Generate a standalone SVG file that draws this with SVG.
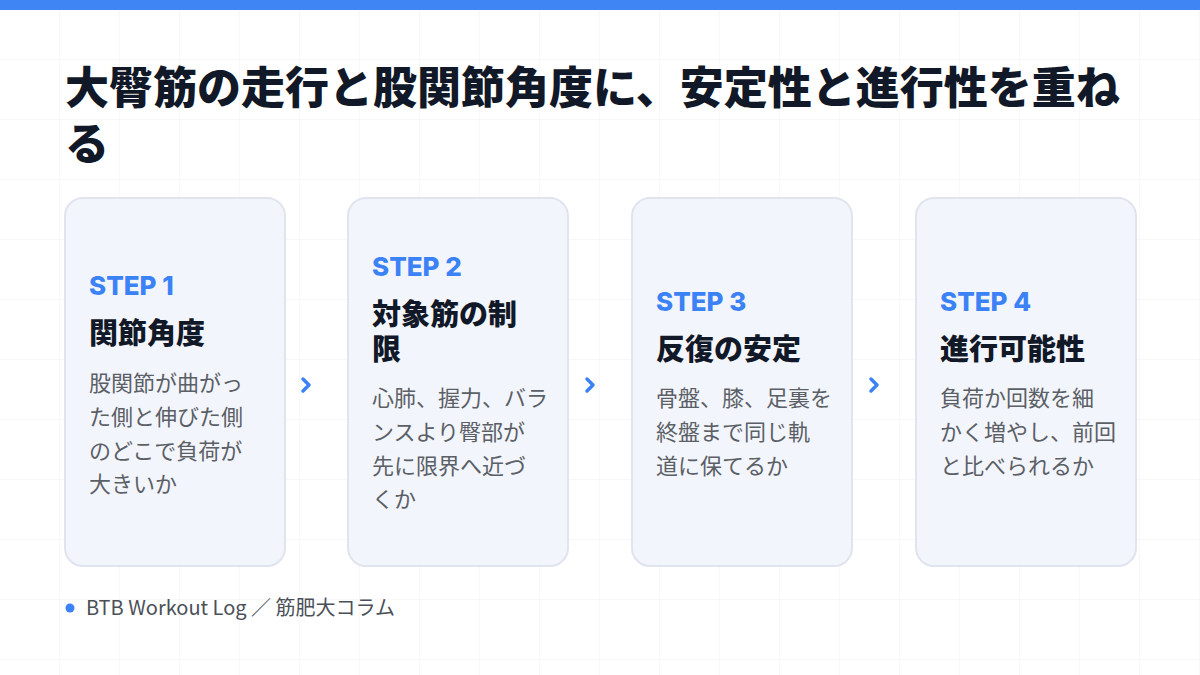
<svg xmlns="http://www.w3.org/2000/svg" width="1200" height="675" viewBox="0 0 1200 675">
<defs>
<pattern id="grid" width="60" height="60" patternUnits="userSpaceOnUse"><path d="M60 0V60H0" fill="none" stroke="#F0F1F4" stroke-width="1"/></pattern>
</defs>
<style>
text{font-family:"Noto Sans CJK JP","Noto Sans",sans-serif}
.card{fill:#F3F5FC;stroke:#E0E4EE;stroke-width:2}
.step{fill:#3B82F6;font-size:26px;font-weight:800;font-family:Inter,"Noto Sans",sans-serif}
.ttl{fill:#111827;font-size:29px;font-weight:900}
.body{fill:#5B5F66;font-size:22px}
.chev{fill:none;stroke:#3B82F6;stroke-width:3.5;stroke-linecap:round;stroke-linejoin:round}
</style>
<rect width="1200" height="675" fill="#FFFFFF"/>
<rect width="1200" height="675" fill="url(#grid)"/>
<rect width="1200" height="10" fill="#3F86F4"/>
<text x="65" y="104" fill="#111827" font-size="44" font-weight="900">大臀筋の走行と股関節角度に、安定性と進行性を重ね</text>
<text x="65" y="160" fill="#111827" font-size="44" font-weight="900">る</text>
<g id="step1"><rect class="card" x="65" y="198" width="220" height="368" rx="18"/>
<text class="step" x="89" y="295">STEP 1</text>
<text class="ttl" x="89" y="344">関節角度</text>
<text class="body" x="89" y="391">股関節が曲がっ</text><text class="body" x="89" y="425">た側と伸びた側</text><text class="body" x="89" y="459">のどこで負荷が</text><text class="body" x="89" y="492">大きいか</text></g>
<g id="step2"><rect class="card" x="348" y="198" width="220" height="368" rx="18"/>
<text class="step" x="372" y="276">STEP 2</text>
<text class="ttl" x="372" y="325">対象筋の制</text><text class="ttl" x="372" y="360">限</text>
<text class="body" x="372" y="406">心肺、握力、バラ</text><text class="body" x="372" y="440">ンスより臀部が</text><text class="body" x="372" y="474">先に限界へ近づ</text><text class="body" x="372" y="507">くか</text></g>
<g id="step3"><rect class="card" x="632" y="198" width="220" height="368" rx="18"/>
<text class="step" x="656" y="311">STEP 3</text>
<text class="ttl" x="656" y="360">反復の安定</text>
<text class="body" x="656" y="406">骨盤、膝、足裏を</text><text class="body" x="656" y="440">終盤まで同じ軌</text><text class="body" x="656" y="474">道に保てるか</text></g>
<g id="step4"><rect class="card" x="916" y="198" width="220" height="368" rx="18"/>
<text class="step" x="940" y="311">STEP 4</text>
<text class="ttl" x="940" y="360">進行可能性</text>
<text class="body" x="940" y="406">負荷か回数を細</text><text class="body" x="940" y="440">かく増やし、前回</text><text class="body" x="940" y="474">と比べられるか</text></g>
<g id="connectors">
<path class="chev" d="M303 379L309 385L303 391"/>
<path class="chev" d="M587 379L593 385L587 391"/>
<path class="chev" d="M871 379L877 385L871 391"/>
</g>
<circle cx="70" cy="608" r="4.5" fill="#3B82F6"/>
<text x="86" y="615" fill="#4B5058" font-size="20" font-family="Inter,'Noto Sans CJK JP',sans-serif">BTB Workout Log ／ 筋肥大コラム</text>
</svg>
